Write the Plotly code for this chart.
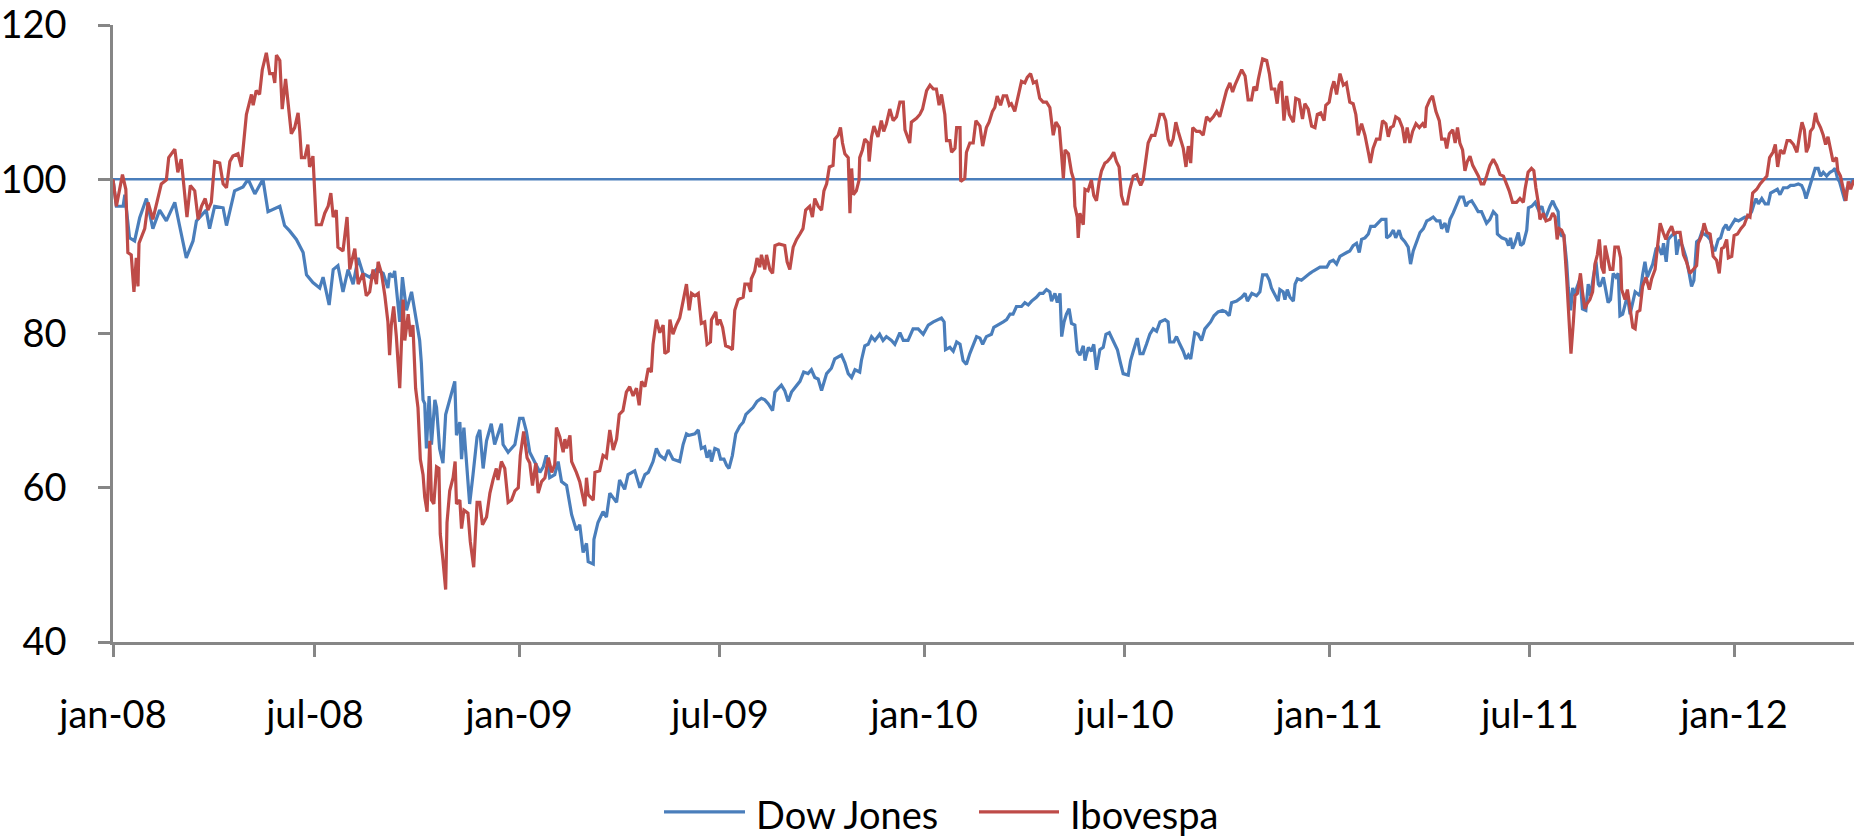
import pandas as pd
import plotly.graph_objects as go

# ---- data (x = months elapsed since 1 Jan 2008, y = index, base 100) ----
START_DATE = "2008-01-01"
DAYS_PER_MONTH = 30.4375
BASE_LEVEL = 100

dow_jones = [
    (0.00, 100), (0.10, 96.5), (0.30, 96.5), (0.35, 98), (0.49, 92.4), (0.64, 92), (0.79, 95),
    (0.99, 97.5), (1.18, 93.6), (1.38, 96), (1.58, 94.6), (1.83, 97), (1.97, 94), (2.17, 89.8),
    (2.37, 92), (2.47, 94.6), (2.76, 96), (2.86, 93.6), (3.01, 96.5), (3.26, 96.3), (3.36, 94),
    (3.60, 98.5), (3.85, 99), (4.00, 100), (4.20, 98.1), (4.44, 100), (4.59, 95.8), (4.94, 96.5),
    (5.08, 94), (5.23, 93.3), (5.43, 92.2), (5.63, 90.5), (5.73, 87.6), (5.92, 86.6), (6.12, 85.9),
    (6.22, 87.3), (6.40, 83.7), (6.52, 88.3), (6.66, 88.8), (6.81, 85.4), (6.96, 88.3), (7.11, 86.4),
    (7.26, 89.8), (7.40, 87.8), (7.60, 87.3), (7.80, 88.3), (8.00, 87.8), (8.14, 85.9),
    (8.19, 87.8), (8.29, 87.3), (8.34, 88.1), (8.49, 81.5), (8.57, 87.3), (8.69, 83), (8.84, 85.4),
    (8.98, 82), (9.08, 79.1), (9.13, 76.2), (9.18, 71.4), (9.23, 70.9), (9.28, 65.1), (9.36, 71.9),
    (9.43, 65.6), (9.53, 71.4), (9.58, 70.4), (9.67, 65.1), (9.77, 63.2), (9.85, 69.5), (9.97, 71.6),
    (10.12, 73.8), (10.17, 66.8), (10.27, 68.5), (10.32, 63.7), (10.39, 67.8), (10.46, 63.7),
    (10.56, 57.9), (10.66, 61.7), (10.78, 66.6), (10.86, 67.5), (10.96, 62.5), (11.06, 66.1),
    (11.20, 68.3), (11.30, 65.6), (11.50, 68.3), (11.55, 65.6), (11.70, 64.6), (11.90, 65.6),
    (12.04, 69), (12.14, 69), (12.24, 67.3), (12.34, 64.6), (12.49, 63.4), (12.64, 62), (12.74, 62.7),
    (12.83, 64.2), (12.93, 61.3), (13.08, 61.7), (13.18, 63.4), (13.28, 60.8), (13.43, 60.3),
    (13.58, 56.5), (13.72, 54.5), (13.82, 55.2), (13.92, 51.6), (14.02, 52.8), (14.07, 50.4),
    (14.22, 50.1), (14.24, 53.3), (14.36, 55.5), (14.51, 56.9), (14.61, 56.2), (14.71, 59.3),
    (14.91, 58.1), (15.00, 61), (15.15, 59.8), (15.25, 61.7), (15.45, 62.2), (15.60, 60), (15.75, 61.7),
    (15.85, 62), (15.99, 63.4), (16.09, 65.1), (16.19, 64.2), (16.34, 63.7), (16.44, 64.9), (16.58, 63.7),
    (16.78, 63.4), (16.88, 65.6), (16.98, 67), (17.06, 66.8), (17.23, 67), (17.33, 67.5), (17.42, 65.1),
    (17.52, 65.3), (17.59, 63.9), (17.67, 64.9), (17.72, 63.4), (17.82, 65.1), (17.92, 64.9),
    (17.99, 63.7), (18.09, 63.7), (18.17, 62.9), (18.24, 62.5), (18.34, 64.2), (18.44, 67), (18.56, 68),
    (18.66, 68.5), (18.74, 69.5), (18.85, 70), (18.95, 70.4), (19.07, 71.2), (19.20, 71.6), (19.30, 71.4),
    (19.40, 70.9), (19.53, 70), (19.60, 72.4), (19.70, 72.9), (19.79, 73.3), (19.89, 72.6), (19.99, 71.2),
    (20.09, 72.4), (20.24, 73.3), (20.34, 73.8), (20.45, 75), (20.58, 74.8), (20.68, 75.3), (20.78, 74.3),
    (20.88, 74.1), (20.98, 72.6), (21.13, 74.8), (21.27, 75.5), (21.37, 76.7), (21.47, 77), (21.57, 77.2),
    (21.67, 76.2), (21.77, 74.8), (21.87, 74.3), (21.97, 75.3), (22.11, 75), (22.16, 76.5), (22.26, 78.4),
    (22.36, 78.6), (22.46, 79.6), (22.56, 79.1), (22.70, 79.9), (22.80, 79.1), (22.90, 79.6),
    (23.05, 79.1), (23.15, 78.6), (23.30, 80.1), (23.40, 79.1), (23.54, 79.1), (23.69, 80.6),
    (23.84, 80.6), (23.99, 79.9), (24.14, 81.1), (24.29, 81.5), (24.43, 81.8), (24.53, 82), (24.61, 81.5),
    (24.65, 77.9), (24.78, 78.2), (24.88, 77.7), (24.98, 78.9), (25.08, 78.6), (25.17, 76.5), (25.27, 76),
    (25.37, 77.4), (25.47, 78.6), (25.57, 79.6), (25.67, 79.4), (25.75, 78.6), (25.86, 79.6), (26.01, 79.9),
    (26.08, 80.8), (26.21, 81.1), (26.36, 81.5), (26.46, 81.8), (26.56, 82.5), (26.65, 82.5), (26.75, 83.5),
    (26.90, 83.5), (27.00, 84), (27.10, 83.7), (27.20, 84.2), (27.34, 84.7), (27.44, 85.2), (27.54, 85.2),
    (27.64, 85.7), (27.74, 85.4), (27.79, 84.2), (27.89, 85.2), (27.96, 84), (28.04, 85.2), (28.09, 79.6),
    (28.16, 81.5), (28.23, 82.5), (28.31, 83.2), (28.38, 81.3), (28.48, 81.1), (28.55, 77.7), (28.63, 77.2),
    (28.73, 78.4), (28.78, 76.5), (28.88, 78.2), (28.97, 77.7), (29.04, 78.6), (29.12, 75.3), (29.22, 77.9),
    (29.32, 78.2), (29.40, 79.9), (29.50, 80.1), (29.62, 79.1), (29.74, 77.9), (29.83, 76.2), (29.91, 74.8),
    (30.06, 74.6), (30.13, 76.5), (30.21, 77.7), (30.26, 78.4), (30.33, 79.4), (30.41, 77.4), (30.50, 77.4),
    (30.60, 78.6), (30.70, 79.9), (30.80, 80.6), (30.90, 80.3), (31.00, 81.5), (31.15, 81.8), (31.24, 81.5),
    (31.29, 78.9), (31.41, 78.9), (31.49, 79.6), (31.59, 78.6), (31.69, 77.7), (31.77, 76.7), (31.84, 77.2),
    (31.91, 76.7), (31.97, 78.6), (32.03, 80.1), (32.13, 79.9), (32.23, 79.1), (32.33, 80.6), (32.43, 81.1),
    (32.50, 81.5), (32.60, 82.3), (32.72, 82.8), (32.85, 83), (32.95, 82.8), (33.05, 82.3), (33.12, 84),
    (33.27, 84.2), (33.42, 84.7), (33.52, 85.2), (33.59, 84.2), (33.72, 85.2), (33.86, 84.9), (33.96, 85.4),
    (34.04, 87.6), (34.16, 87.6), (34.24, 86.9), (34.30, 85.9), (34.43, 84.7), (34.50, 84.2), (34.55, 85.7),
    (34.65, 85.4), (34.70, 84.4), (34.77, 85.7), (34.85, 84.7), (34.95, 84.2), (35.00, 86.4), (35.07, 87.1),
    (35.19, 86.9), (35.29, 87.3), (35.44, 87.8), (35.54, 88.1), (35.64, 88.3), (35.74, 88.6), (35.94, 88.6),
    (36.03, 89.3), (36.13, 89.5), (36.23, 89), (36.33, 90), (36.43, 90.2), (36.53, 90.5), (36.62, 90.7),
    (36.72, 91.4), (36.82, 91.7), (36.90, 90.5), (36.97, 92.2), (37.07, 92.4), (37.17, 92.9), (37.24, 93.9),
    (37.36, 93.9), (37.46, 94.3), (37.56, 94.8), (37.69, 94.8), (37.71, 92.4), (37.81, 92.7), (37.91, 93.4),
    (37.98, 92.4), (38.08, 93.4), (38.15, 92.4), (38.25, 91.9), (38.35, 91.2), (38.42, 89), (38.50, 90.7),
    (38.60, 91.9), (38.70, 93.1), (38.80, 93.6), (38.90, 94.6), (38.99, 94.8), (39.09, 95.1), (39.19, 94.6),
    (39.29, 94.6), (39.34, 93.6), (39.44, 94.3), (39.51, 93.1), (39.59, 94.8), (39.68, 95.6), (39.78, 96.8),
    (39.88, 97.7), (39.98, 97.7), (40.06, 96.5), (40.13, 97), (40.23, 97.2), (40.33, 96.5), (40.42, 95.8),
    (40.52, 95.8), (40.59, 95.1), (40.67, 94.3), (40.77, 94.8), (40.87, 95.8), (40.97, 95.3), (40.99, 92.9),
    (41.12, 92.4), (41.25, 92.2), (41.32, 91.4), (41.38, 92.4), (41.44, 91), (41.51, 91.7), (41.61, 93.1),
    (41.68, 91.4), (41.76, 91.7), (41.86, 93.4), (41.91, 96.3), (42.01, 96.5), (42.11, 97), (42.21, 96),
    (42.31, 96.5), (42.40, 94.8), (42.55, 96.5), (42.63, 97.2), (42.70, 96.5), (42.79, 95.8), (42.82, 93.1),
    (42.89, 92.7), (42.96, 92.7), (43.04, 89.3), (43.09, 85.9), (43.16, 83), (43.22, 85.9), (43.29, 84.9),
    (43.34, 85.9), (43.44, 87.1), (43.51, 83.2), (43.61, 83), (43.68, 86.4), (43.75, 84.9), (43.83, 87.3),
    (43.91, 89.3), (43.98, 86.4), (44.03, 86.1), (44.13, 87.3), (44.20, 85.4), (44.27, 84), (44.34, 84.4),
    (44.42, 87.8), (44.50, 87.3), (44.57, 87.8), (44.62, 82.3), (44.70, 82.5), (44.77, 83.7), (44.84, 84.9),
    (44.92, 82.5), (45.00, 84), (45.07, 85.4), (45.13, 85.2), (45.21, 84.9), (45.29, 87.6), (45.36, 89.3),
    (45.43, 87.3), (45.51, 88.3), (45.59, 89), (45.69, 91), (45.76, 91.2), (45.86, 90.2), (45.91, 91.7),
    (45.99, 89.3), (46.05, 92.2), (46.15, 92.7), (46.25, 93.1), (46.30, 90.2), (46.38, 92.2), (46.48, 91.2),
    (46.58, 89.8), (46.67, 87.8), (46.74, 86.1), (46.81, 86.9), (46.89, 91.9), (46.97, 92.2), (47.04, 93.1),
    (47.11, 92.9), (47.19, 92.7), (47.29, 92.2), (47.37, 91), (47.43, 90.7), (47.53, 92.2), (47.60, 92.4),
    (47.68, 93.6), (47.76, 94.1), (47.83, 93.4), (47.93, 94.1), (48.03, 94.8), (48.13, 94.6), (48.22, 94.8),
    (48.32, 95.1), (48.42, 95.1), (48.52, 95.8), (48.59, 96.8), (48.65, 97.5), (48.72, 96.8), (48.82, 97.5),
    (48.92, 96.8), (49.01, 96.8), (49.08, 98.2), (49.18, 98.5), (49.28, 98.7), (49.36, 98), (49.46, 98.9),
    (49.58, 98.9), (49.67, 99.2), (49.77, 99.2), (49.90, 99.4), (50.00, 99.2), (50.07, 98.5), (50.13, 97.5),
    (50.20, 98.5), (50.27, 99.2), (50.35, 100.4), (50.40, 101.4), (50.49, 101.4), (50.56, 100.4),
    (50.64, 100.9), (50.74, 100.4), (50.84, 100.9), (50.92, 101.1), (50.99, 101.4), (51.06, 100.1),
    (51.12, 99.7), (51.19, 98.7), (51.28, 97.2), (51.35, 98.9), (51.43, 99.4), (51.53, 99.9),
]

ibovespa = [
    (0.00, 100), (0.10, 96.5), (0.28, 100.6), (0.38, 98.7), (0.44, 90.5), (0.54, 90.2), (0.62, 85.4),
    (0.69, 89.8), (0.74, 86.1), (0.77, 91.7), (0.94, 93.6), (1.04, 97), (1.18, 94.8), (1.33, 97.5),
    (1.43, 99.4), (1.58, 99.9), (1.65, 102.8), (1.83, 103.9), (1.92, 100.9), (2.02, 102.6), (2.19, 95.1),
    (2.29, 99.2), (2.42, 98.5), (2.52, 94.8), (2.62, 96.5), (2.73, 97.5), (2.81, 96), (2.91, 97),
    (2.96, 100.4), (3.01, 102.3), (3.16, 102.1), (3.26, 99.4), (3.36, 98.9), (3.46, 102.3), (3.55, 103),
    (3.70, 103.3), (3.80, 101.6), (3.85, 104.3), (3.95, 108.4), (4.10, 111), (4.15, 109.6), (4.24, 111.5),
    (4.34, 111), (4.42, 114.2), (4.54, 116.4), (4.64, 113.7), (4.74, 113.7), (4.79, 112.5), (4.84, 116.1),
    (4.94, 115.4), (5.01, 109.1), (5.11, 113), (5.18, 110), (5.28, 105.9), (5.38, 106.7), (5.48, 108.6),
    (5.53, 106.2), (5.58, 102.8), (5.68, 102.8), (5.77, 104.5), (5.82, 101.6), (5.92, 103), (6.02, 94.1),
    (6.17, 94.1), (6.27, 95.6), (6.37, 96.5), (6.45, 98.2), (6.52, 95.1), (6.61, 96), (6.66, 91.2),
    (6.81, 90.7), (6.93, 95.1), (7.01, 88.3), (7.16, 91), (7.26, 86.4), (7.40, 87.8), (7.50, 84.9),
    (7.60, 85.4), (7.70, 88.3), (7.80, 86.4), (7.85, 89.3), (7.95, 87.8), (8.05, 84.9), (8.14, 81.5),
    (8.19, 77.2), (8.24, 81.1), (8.31, 83.5), (8.39, 79.6), (8.49, 72.9), (8.59, 84.4), (8.64, 79.1),
    (8.74, 82.5), (8.81, 79.6), (8.88, 81.1), (8.96, 72.9), (9.03, 70.4), (9.10, 63.7), (9.18, 61.7),
    (9.23, 58.8), (9.30, 56.9), (9.38, 66.1), (9.43, 58.4), (9.50, 57.9), (9.58, 62.7), (9.65, 62.5),
    (9.69, 54), (9.77, 50.6), (9.85, 46.8), (9.89, 55.5), (9.97, 59.6), (10.07, 61.3), (10.13, 63.4),
    (10.17, 57.9), (10.27, 58.4), (10.32, 54.7), (10.39, 57.1), (10.51, 56.7), (10.58, 53), (10.68, 49.7),
    (10.78, 58.1), (10.86, 58.1), (10.94, 55.2), (11.06, 56.2), (11.16, 59.3), (11.25, 61), (11.35, 62.5),
    (11.40, 61), (11.50, 63.4), (11.60, 62.5), (11.70, 58.1), (11.80, 58.4), (11.90, 59.6), (12.00, 60),
    (12.06, 64.2), (12.16, 67.3), (12.26, 63.9), (12.34, 63.2), (12.42, 60.3), (12.52, 63.2), (12.59, 59.3),
    (12.69, 60.8), (12.79, 61.3), (12.89, 63.9), (12.99, 62), (13.08, 63), (13.13, 67.8), (13.23, 66.6),
    (13.33, 64.6), (13.38, 66.3), (13.43, 65.1), (13.53, 66.8), (13.58, 63.4), (13.72, 62), (13.82, 60.8),
    (13.97, 57.6), (14.02, 61.3), (14.07, 59.1), (14.22, 58.4), (14.27, 62), (14.41, 62.2), (14.51, 64.2),
    (14.61, 63.9), (14.71, 67.5), (14.81, 64.9), (14.91, 66.3), (14.99, 69.5), (15.10, 70), (15.20, 72.4),
    (15.30, 73.1), (15.40, 71.9), (15.50, 72.9), (15.58, 70.7), (15.65, 73.8), (15.75, 73.1), (15.85, 75.5),
    (15.94, 75), (15.99, 78.6), (16.09, 81.8), (16.19, 80.1), (16.29, 81.1), (16.34, 77.4), (16.44, 77.7),
    (16.49, 81.8), (16.58, 79.9), (16.68, 81.1),
    (16.78, 82), (16.88, 84.2), (16.98, 86.4), (17.06, 83), (17.13, 85.2), (17.23, 84.9), (17.33, 85.2),
    (17.42, 81.3), (17.52, 81.5), (17.59, 78.6), (17.69, 78.9), (17.72, 81.8), (17.85, 82.8), (17.89, 81.1),
    (17.97, 81.8), (18.05, 80.8), (18.14, 78.4), (18.26, 78.2), (18.34, 77.9), (18.41, 83), (18.51, 84.4),
    (18.66, 84.7), (18.71, 86.4), (18.81, 86.4), (18.88, 85.4), (18.90, 87.1), (19.00, 88.1), (19.07, 89.8),
    (19.15, 88.6), (19.20, 90.2), (19.30, 88.3), (19.35, 90.2), (19.45, 88.3), (19.53, 87.8), (19.60, 91.4),
    (19.72, 91.6), (19.89, 91.4), (19.96, 89.3), (20.04, 88.3), (20.14, 91.2), (20.24, 92.2), (20.34, 92.9),
    (20.43, 93.6), (20.51, 96), (20.63, 96.5), (20.71, 95.1), (20.78, 97.5), (20.88, 96.5), (20.98, 96),
    (21.05, 98.5), (21.13, 99.4), (21.21, 101.6), (21.32, 101.8), (21.37, 105.2), (21.47, 105.7),
    (21.54, 106.7), (21.60, 104.7), (21.67, 103.3), (21.77, 102.8), (21.82, 95.6), (21.87, 101.4),
    (21.92, 98), (22.01, 98.5), (22.09, 99.9), (22.11, 102.8), (22.19, 103.8), (22.26, 105.2), (22.36, 104.7),
    (22.39, 102.3), (22.46, 105.5), (22.53, 106.9), (22.65, 105.5), (22.75, 107.6), (22.82, 106.2),
    (22.90, 107.2), (23.00, 109.1), (23.10, 107.6), (23.20, 108.1), (23.30, 110), (23.40, 110), (23.45, 106.4),
    (23.59, 104.7), (23.64, 107.4), (23.79, 107.9), (23.89, 108.4), (23.97, 109.1), (24.09, 111.5),
    (24.19, 112.2), (24.29, 111.7), (24.38, 111.7), (24.46, 109.6), (24.53, 111), (24.63, 108.4), (24.68, 105),
    (24.78, 105), (24.83, 103.5), (24.93, 104), (24.98, 106.7), (25.08, 106.7), (25.10, 99.7), (25.22, 100.1),
    (25.27, 103.5),
    (25.37, 104.7), (25.47, 104.7), (25.55, 107.6), (25.67, 106.9), (25.75, 104.3), (25.86, 106.7),
    (25.94, 107.4), (26.04, 108.8), (26.11, 109.3), (26.18, 110.8), (26.28, 109.6), (26.36, 110.8),
    (26.46, 110.8), (26.54, 109.6), (26.60, 109.8), (26.70, 108.8), (26.80, 110.8), (26.90, 112.7),
    (27.00, 112.5), (27.07, 113.2), (27.17, 113.7), (27.25, 112.5), (27.34, 112.7), (27.44, 110.5),
    (27.54, 110), (27.64, 110), (27.74, 109.3), (27.84, 105.7), (27.92, 107.4), (28.02, 106.7), (28.09, 103),
    (28.14, 100.1), (28.19, 103.8), (28.29, 103.3), (28.38, 100.9), (28.45, 99.9), (28.48, 96.5),
    (28.55, 95.1), (28.58, 92.4), (28.63, 95.6), (28.73, 94.1), (28.78, 98.7), (28.87, 98.5), (28.97, 99.9),
    (29.04, 97.9), (29.12, 97.2), (29.20, 99.7), (29.27, 101.1), (29.37, 102.1), (29.44, 102.3),
    (29.54, 102.8), (29.63, 103.5), (29.71, 102.3), (29.79, 101.6), (29.86, 97.9), (29.93, 96.8),
    (30.03, 96.8), (30.11, 98.7), (30.21, 100.4), (30.31, 100.6), (30.36, 99.9), (30.43, 99.2), (30.50, 99.9),
    (30.58, 102.6), (30.65, 104.7), (30.75, 105.7), (30.85, 105.7), (30.92, 106.9), (31.00, 108.4),
    (31.10, 108.4), (31.17, 107.6), (31.24, 105.2), (31.31, 104.3), (31.39, 105.2), (31.47, 107.4),
    (31.54, 106.2), (31.61, 105.2), (31.69, 104), (31.77, 101.6), (31.84, 104.3), (31.91, 102.1),
    (31.97, 106.7), (32.08, 106.2), (32.18, 106.2), (32.28, 105.7), (32.38, 108.1), (32.48, 107.6),
    (32.58, 108.1), (32.68, 108.8), (32.77, 108.1), (32.87, 109.8), (32.97, 111.5), (33.07, 112.5),
    (33.15, 111.3), (33.22, 112.2), (33.32, 113.2), (33.42, 114.2), (33.52, 113.4), (33.61, 110.3),
    (33.71, 110.3), (33.78, 112), (33.86, 111.5), (33.91, 112.9),
    (34.04, 115.6), (34.16, 115.4), (34.24, 113.7), (34.30, 111.7), (34.40, 111.7), (34.47, 109.8),
    (34.53, 112.2), (34.60, 112.7), (34.67, 107.6), (34.75, 110.8), (34.83, 108.4), (34.95, 107.4),
    (35.02, 110.5), (35.12, 110.3), (35.22, 107.8), (35.29, 109.8), (35.39, 109.1), (35.49, 106.9),
    (35.59, 106.7), (35.66, 108.4), (35.76, 108.6), (35.86, 107.6), (35.91, 109.6), (36.01, 110),
    (36.08, 111.7), (36.15, 112.7), (36.23, 111), (36.33, 113.7), (36.43, 112.2), (36.52, 112.5), (36.62, 110),
    (36.72, 109.8), (36.80, 108.4), (36.87, 105.7), (36.97, 107.2), (37.07, 105.7), (37.17, 103.5),
    (37.23, 102.1), (37.31, 104), (37.41, 105.2), (37.51, 105.2), (37.59, 107.6), (37.69, 107.2),
    (37.76, 105.5), (37.83, 106.7), (37.91, 106.9), (37.98, 108.1), (38.08, 107.8), (38.18, 106.7),
    (38.25, 104.7), (38.32, 106.7), (38.40, 104.7), (38.48, 106.2), (38.58, 107.2), (38.68, 106.7),
    (38.78, 107.2), (38.85, 106.7), (38.89, 109.3), (38.99, 110.3), (39.07, 110.8), (39.17, 108.8),
    (39.27, 107.6), (39.34, 105.2), (39.44, 105.2), (39.49, 104), (39.57, 105.9), (39.67, 106.4),
    (39.74, 104.7), (39.81, 106.7), (39.88, 104.7), (39.96, 103.8), (40.03, 101.1), (40.10, 102.3),
    (40.18, 103), (40.26, 101.8), (40.36, 100.9), (40.43, 100.4), (40.51, 99.4), (40.59, 99.4), (40.67, 100.4),
    (40.77, 101.8), (40.87, 102.6), (40.97, 101.8), (41.07, 100.6), (41.17, 100.4), (41.26, 99.4),
    (41.34, 98.5), (41.44, 97), (41.56, 97), (41.66, 97.5), (41.76, 97), (41.81, 98.7), (41.90, 100.9),
    (42.00, 101.4), (42.07, 101.1), (42.13, 98.9), (42.20, 97), (42.25, 94.8), (42.35, 95.6), (42.43, 94.6),
    (42.55, 94.8), (42.63, 95.6), (42.70, 95.1), (42.76, 92.2), (42.82, 93.6), (42.89, 93.4), (42.96, 92.7),
    (43.04, 87.3), (43.09, 83.5), (43.17, 77.4), (43.24, 81.5), (43.29, 84.9), (43.36, 85.2), (43.41, 86.6),
    (43.45, 87.8), (43.51, 85.4), (43.58, 83.2), (43.65, 83.9), (43.73, 84.4), (43.81, 85.4), (43.88, 89),
    (43.95, 90.2), (44.01, 92.2), (44.08, 88.6), (44.15, 87.8), (44.18, 91.4), (44.25, 89.8), (44.33, 88.3),
    (44.41, 88.3), (44.47, 91.2), (44.57, 91.2), (44.64, 89.8), (44.67, 85.7), (44.77, 84.4), (44.84, 85.7),
    (44.92, 83.5), (45.00, 80.8), (45.07, 80.6), (45.13, 82.8), (45.21, 83), (45.29, 86.1), (45.39, 87.3),
    (45.49, 85.7), (45.56, 87.1), (45.66, 88.3), (45.73, 91.2), (45.81, 94.3), (45.90, 93.1), (45.98, 92.2),
    (46.05, 93.1), (46.15, 93.9), (46.22, 92.9), (46.30, 93.1), (46.40, 93.1), (46.50, 90.2), (46.59, 89.3),
    (46.69, 87.8), (46.79, 88.3), (46.89, 88.8), (46.94, 91.7), (47.04, 92.7), (47.11, 94.3), (47.19, 93.1),
    (47.29, 92.9), (47.38, 90), (47.48, 89.5), (47.56, 87.8), (47.63, 91), (47.70, 91.2), (47.78, 92.2),
    (47.83, 89.8), (47.93, 90), (48.00, 92.7), (48.10, 92.9), (48.20, 93.6), (48.30, 94.1), (48.40, 95.3),
    (48.47, 95.1), (48.55, 98.2), (48.67, 98.7), (48.77, 99.4), (48.87, 99.9), (48.97, 100.4), (49.05, 102.8),
    (49.15, 103.5), (49.22, 104.5), (49.29, 101.6), (49.37, 103.8), (49.47, 103.3), (49.57, 105), (49.66, 105),
    (49.76, 104.5), (49.86, 103.5), (49.94, 105.7), (50.01, 107.4), (50.08, 106.4), (50.14, 103.5),
    (50.21, 104.3), (50.26, 106.2), (50.34, 106.7), (50.41, 108.6), (50.46, 107.6), (50.56, 106.7),
    (50.64, 105.7), (50.71, 104.5), (50.78, 105.5), (50.85, 104), (50.93, 102.3), (51.03, 102.8),
    (51.07, 101.1), (51.15, 100.4), (51.25, 98.5), (51.31, 97.2), (51.38, 99.7), (51.45, 98.7), (51.55, 99.9),
]

tick_dates = ["2008-01-01", "2008-07-01", "2009-01-01", "2009-07-01", "2010-01-01",
              "2010-07-01", "2011-01-01", "2011-07-01", "2012-01-01"]
tick_labels = ["jan-08", "jul-08", "jan-09", "jul-09", "jan-10",
               "jul-10", "jan-11", "jul-11", "jan-12"]
y_ticks = [40, 60, 80, 100, 120]
X_END_MONTH = 51.55

series_names = ["Dow Jones", "Ibovespa"]
series_colors = ["#4A7EBB", "#BE4B48"]

# ---- helpers ----
start = pd.Timestamp(START_DATE)


def to_dates(months):
    return [start + pd.Timedelta(days=m * DAYS_PER_MONTH) for m in months]


FONT = "Lato"
AXIS_GREY = "#868686"

fig = go.Figure()
fig.add_hline(y=BASE_LEVEL, line=dict(color=series_colors[0], width=2.4), layer="below")
for name, color, pts in zip(series_names, series_colors, [dow_jones, ibovespa]):
    months = [p[0] for p in pts]
    vals = [p[1] for p in pts]
    fig.add_trace(go.Scatter(x=to_dates(months), y=vals, mode="lines", name=name,
                             line=dict(color=color, width=3.2), showlegend=False))

W, H = 1854, 836
ML, MR, MT, MB = 113, 0, 21, 194
pw, ph = W - ML - MR, H - MT - MB


def px_x(px):
    return (px - ML) / pw


def px_y(py):
    return (H - MB - py) / ph


# manual legend (long line samples like the original)
legend_items = [
    (series_names[0], series_colors[0], 664, 745, 754, 190),
    (series_names[1], series_colors[1], 979, 1059, 1068, 160),
]
for name, color, x0, x1, xt, wt in legend_items:
    fig.add_shape(type="line", xref="paper", yref="paper",
                  x0=px_x(x0), x1=px_x(x1), y0=px_y(813), y1=px_y(813),
                  line=dict(color=color, width=3.4))
    fig.add_annotation(xref="paper", yref="paper", x=px_x(xt), y=px_y(815),
                       text=name, showarrow=False, xanchor="left", yanchor="middle",
                       width=wt, height=52, align="left", valign="middle",
                       font=dict(family=FONT, size=38, color="#000000"))

fig.update_layout(
    width=W, height=H,
    margin=dict(l=ML, r=MR, t=MT, b=MB, pad=0),
    plot_bgcolor="white", paper_bgcolor="white",
    showlegend=False,
    font=dict(family=FONT, size=38, color="#000000"),
)
fig.update_xaxes(
    type="date",
    range=[start, start + pd.Timedelta(days=X_END_MONTH * DAYS_PER_MONTH)],
    tickvals=tick_dates, ticktext=tick_labels,
    ticks="outside", ticklen=12, tickwidth=2.5, tickcolor=AXIS_GREY,
    showline=True, linecolor=AXIS_GREY, linewidth=2.5,
    showgrid=False, zeroline=False,
    tickfont=dict(family=FONT, size=38, color="#000000"),
    ticklabelstandoff=26, ticklabeloverflow="allow",
)
fig.update_yaxes(
    range=[40, 120], tickvals=y_ticks,
    ticks="outside", ticklen=12, tickwidth=2.5, tickcolor=AXIS_GREY,
    showline=True, linecolor=AXIS_GREY, linewidth=2.5,
    showgrid=False, zeroline=False,
    tickfont=dict(family=FONT, size=38, color="#000000"),
    ticklabelstandoff=24, ticklabeloverflow="allow",
)

fig.write_html("out.html")
